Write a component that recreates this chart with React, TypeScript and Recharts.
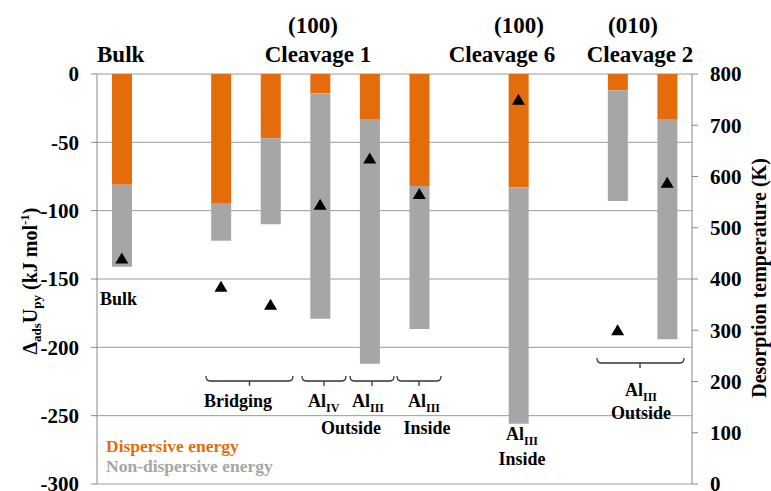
import React from "react";
import {
  ComposedChart,
  Bar,
  Scatter,
  XAxis,
  YAxis,
  CartesianGrid,
} from "recharts";

// 12 slots on the category axis, empty ones are spacers between groups
const sites = [
  "Bulk", "gap1", "Br-a", "Br-b", "AlIV", "AlIII-out", "AlIII-in",
  "gap2", "C6-AlIII-in", "gap3", "C2-a", "C2-b",
];
const dispersive = [-81, null, -95, -47, -14, -33, -82, null, -83, null, -12, -33];
const nonDispersive = [-60, null, -27, -63, -165, -179, -104.5, null, -173, null, -81, -161];
const desorptionT = [440, null, 385, 350, 545, 635, 566, null, 750, null, 300, 588];

const energyTicks = [0, -50, -100, -150, -200, -250, -300];
const tempTicks = [0, 100, 200, 300, 400, 500, 600, 700, 800];

const ORANGE = "#E46C0A";
const GREY = "#A6A6A6";
const FONT = "Liberation Serif, Tinos, Times New Roman, DejaVu Serif, serif";

const data = sites.map((s, i) => ({
  site: s,
  disp: dispersive[i],
  nondisp: nonDispersive[i],
  temp: desorptionT[i],
}));

const Triangle = (props: any) => {
  const { cx, cy } = props;
  if (cx == null || cy == null || !isFinite(cy)) return null;
  return (
    <path
      d={`M${cx},${cy - 6} L${cx + 6.5},${cy + 5} L${cx - 6.5},${cy + 5} Z`}
      fill="#000"
    />
  );
};

// bracket under a group of bars
const Bracket = ({ x1, x2, y, xm }: { x1: number; x2: number; y: number; xm?: number }) => {
  const m = xm ?? (x1 + x2) / 2;
  return (
    <g fill="none" stroke="#333" strokeWidth={1.3}>
      <path d={`M${x1},${y - 5} Q${x1},${y} ${x1 + 4},${y} L${x2 - 4},${y} Q${x2},${y} ${x2},${y - 5}`} />
      <path d={`M${m},${y} L${m},${y + 5}`} />
    </g>
  );
};

const Sub = ({ children }: { children: React.ReactNode }) => (
  <tspan fontSize={12} dy={5}>{children}</tspan>
);

export default function App() {
  const tick = { fill: "#000", fontSize: 21, fontWeight: 700, style: { fontFamily: FONT } };
  const label = { fontWeight: 700, fill: "#000", style: { fontFamily: FONT } } as const;

  return (
    <div
      style={{
        position: "absolute",
        left: 0,
        top: 0,
        width: 771,
        height: 491,
        background: "#fff",
        fontFamily: FONT,
      }}
    >
      <ComposedChart
        width={771}
        height={491}
        data={data}
        margin={{ top: 74, right: 9, bottom: 7, left: 7 }}
        barSize={20}
      >
        <CartesianGrid yAxisId="left" vertical={false} stroke="#9a9a9a" />
        <XAxis dataKey="site" hide />
        <YAxis
          yAxisId="left"
          width={90}
          domain={[-300, 0]}
          ticks={energyTicks}
          tick={tick}
          tickSize={6}
          tickMargin={12}
          axisLine={{ stroke: "#888" }}
          tickLine={{ stroke: "#888" }}
          interval={0}
        />
        <YAxis
          yAxisId="right"
          orientation="right"
          width={70}
          domain={[0, 800]}
          ticks={tempTicks}
          tick={{ ...tick, textAnchor: "start" }}
          tickSize={6}
          tickMargin={12}
          axisLine={{ stroke: "#888" }}
          tickLine={{ stroke: "#888" }}
          interval={0}
        />
        <Bar yAxisId="left" dataKey="disp" stackId="e" fill={ORANGE} isAnimationActive={false} />
        <Bar yAxisId="left" dataKey="nondisp" stackId="e" fill={GREY} isAnimationActive={false} />
        <Scatter yAxisId="right" dataKey="temp" shape={Triangle} isAnimationActive={false} />
      </ComposedChart>

      <svg
        width={771}
        height={491}
        style={{ position: "absolute", left: 0, top: 0, pointerEvents: "none", fontFamily: FONT }}
      >
        {/* group titles */}
        <g {...label} fontSize={23}>
          <text x={97} y={62}>Bulk</text>
          <text x={313} y={33} textAnchor="middle">(100)</text>
          <text x={318} y={62} textAnchor="middle">Cleavage 1</text>
          <text x={519} y={33} textAnchor="middle">(100)</text>
          <text x={502} y={62} textAnchor="middle">Cleavage 6</text>
          <text x={633} y={33} textAnchor="middle">(010)</text>
          <text x={640} y={62} textAnchor="middle">Cleavage 2</text>
        </g>

        {/* site annotations */}
        <Bracket x1={206} x2={293} y={381} />
        <Bracket x1={302} x2={346} y={381} />
        <Bracket x1={350} x2={394} y={381} />
        <Bracket x1={397} x2={441} y={381} />
        <Bracket x1={597} x2={684} y={363} xm={640} />
        <g {...label} fontSize={18}>
          <text x={100} y={305}>Bulk</text>
          <text x={238} y={407} textAnchor="middle">Bridging</text>
          <text x={308} y={407}>Al<Sub>IV</Sub></text>
          <text x={352} y={407}>Al<Sub>III</Sub></text>
          <text x={351} y={434} textAnchor="middle">Outside</text>
          <text x={408} y={407}>Al<Sub>III</Sub></text>
          <text x={427} y={434} textAnchor="middle">Inside</text>
          <text x={506} y={440}>Al<Sub>III</Sub></text>
          <text x={522} y={465} textAnchor="middle">Inside</text>
          <text x={625} y={396}>Al<Sub>III</Sub></text>
          <text x={641} y={419} textAnchor="middle">Outside</text>
        </g>

        {/* legend as coloured text */}
        <g fontWeight={700} fontSize={17.5} style={{ fontFamily: FONT }}>
          <text x={106} y={452} fill={ORANGE}>Dispersive energy</text>
          <text x={106} y={472} fill={GREY}>Non-dispersive energy</text>
        </g>

        {/* axis titles */}
        <text
          {...label}
          fontSize={20}
          textAnchor="middle"
          transform="translate(37,281) rotate(-90)"
        >
          Δ<tspan fontSize={13} dy={4}>ads</tspan>
          <tspan dy={-4}>U</tspan>
          <tspan fontSize={13} dy={4}>py</tspan>
          <tspan dy={-4}> (kJ mol</tspan>
          <tspan fontSize={13} dy={-8}>-1</tspan>
          <tspan dy={8}>)</tspan>
        </text>
        <text
          {...label}
          fontSize={20}
          textAnchor="middle"
          transform="translate(766,278) rotate(-90)"
        >
          Desorption temperature (K)
        </text>
      </svg>
    </div>
  );
}
